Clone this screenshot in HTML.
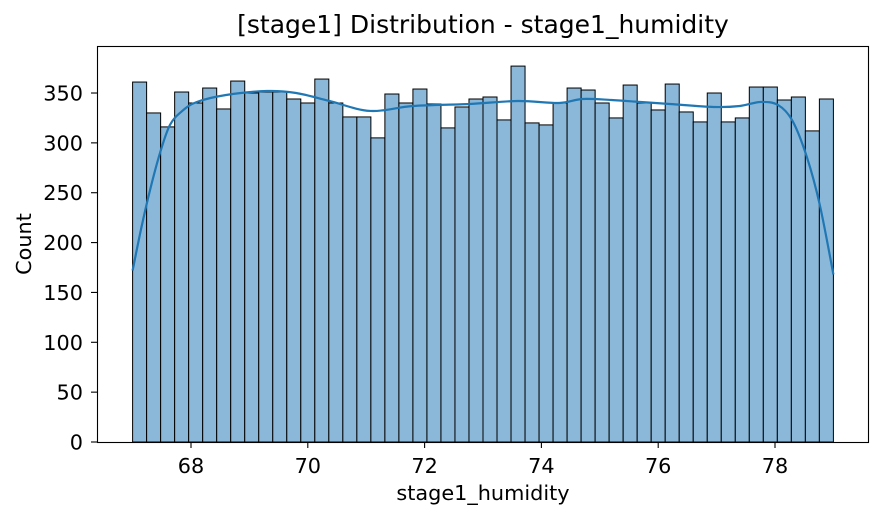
<!DOCTYPE html>
<html><head><meta charset="utf-8"><style>
body{margin:0;background:#fff;}
svg{display:block;font-family:"DejaVu Sans","Liberation Sans",sans-serif;}
</style></head><body>
<svg id="chart" width="884" height="521">
<text x="483" y="33" text-anchor="middle" font-size="25" fill="#000">[stage1] Distribution - stage1_humidity</text>
<g id="bars"></g>
<path id="kde" fill="none" stroke="#1f77b4" stroke-width="2.2"></path>
<rect x="97.5" y="46.5" width="771" height="396" fill="none" stroke="#000" stroke-width="1.1"></rect>
<g id="xticks"></g>
<g id="yticks"></g>
<text x="483" y="500" text-anchor="middle" font-size="20.8">stage1_humidity</text>
<text x="0" y="0" transform="translate(31,244) rotate(-90)" text-anchor="middle" font-size="20.8">Count</text>
</svg>
<script>
const binStart = 67, binEnd = 79;
const counts = [361,330,316,351,340,355,334,362,350,351,351,344,340,364,340,326,326,305,349,340,354,339,315,336,344,346,323,377,320,318,340,355,353,340,325,358,340,333,359,331,321,350,321,325,356,356,343,346,312,344];
const kdeX = [67,67.15,67.3,67.47,67.64,67.85,68.1,68.6,69.3,69.8,70.37,71.07,71.8,72.77,73.6,74.3,74.7,75.2,75.7,76.2,76.95,77.4,77.75,78.05,78.3,78.55,78.77,79];
const kdeY = [172,215,253,290,318,332,341,348,352,350,342,332,337,339,342,340,344,343,341,339,336,337,341,338,322,285,237,168];
const xTicks = [68,70,72,74,76,78];
const yTicks = [0,50,100,150,200,250,300,350];
const NS = "http://www.w3.org/2000/svg";
const sx = v => 191 + (v - 68) * 58.4;
const sy = v => 442 - v * 0.9971;
const bw = (binEnd - binStart) / counts.length;
const bars = document.getElementById('bars');
counts.forEach((c, i) => {
  const r = document.createElementNS(NS, 'rect');
  const x0 = sx(binStart + i * bw), x1 = sx(binStart + (i + 1) * bw);
  r.setAttribute('x', x0); r.setAttribute('width', x1 - x0);
  r.setAttribute('y', sy(c)); r.setAttribute('height', sy(0) - sy(c));
  r.setAttribute('fill', '#8bb8d9'); r.setAttribute('stroke', '#000'); r.setAttribute('stroke-width', '1');
  
  
  bars.appendChild(r);
});
const pts = kdeX.map((x, i) => [sx(x), sy(kdeY[i])]);
let d = `M${pts[0][0]},${pts[0][1]}`;
for (let i = 0; i < pts.length - 1; i++) {
  const p0 = pts[i - 1] || pts[i], p1 = pts[i], p2 = pts[i + 1], p3 = pts[i + 2] || p2;
  const c1 = [p1[0] + (p2[0] - p0[0]) / 6, p1[1] + (p2[1] - p0[1]) / 6];
  const c2 = [p2[0] - (p3[0] - p1[0]) / 6, p2[1] - (p3[1] - p1[1]) / 6];
  d += ` C${c1[0]},${c1[1]} ${c2[0]},${c2[1]} ${p2[0]},${p2[1]}`;
}
document.getElementById('kde').setAttribute('d', d);
const xg = document.getElementById('xticks');
xTicks.forEach(t => {
  const l = document.createElementNS(NS, 'line');
  l.setAttribute('x1', sx(t)); l.setAttribute('x2', sx(t)); l.setAttribute('y1', 442); l.setAttribute('y2', 448);
  l.setAttribute('stroke', '#000'); l.setAttribute('stroke-width', '1.1');
  
  
  xg.appendChild(l);
  const tx = document.createElementNS(NS, 'text');
  tx.setAttribute('x', sx(t)); tx.setAttribute('y', 473); tx.setAttribute('text-anchor', 'middle'); tx.setAttribute('font-size', '20.8');
  tx.textContent = t;
  
  
  xg.appendChild(tx);
});
const yg = document.getElementById('yticks');
yTicks.forEach(t => {
  const l = document.createElementNS(NS, 'line');
  l.setAttribute('x1', 91); l.setAttribute('x2', 97); l.setAttribute('y1', sy(t)); l.setAttribute('y2', sy(t));
  l.setAttribute('stroke', '#000'); l.setAttribute('stroke-width', '1.1');
  
  
  yg.appendChild(l);
  const tx = document.createElementNS(NS, 'text');
  tx.setAttribute('x', 83); tx.setAttribute('y', sy(t) + 7.5); tx.setAttribute('text-anchor', 'end'); tx.setAttribute('font-size', '20.8');
  tx.textContent = t;
  
  
  yg.appendChild(tx);
});
</script>
</body></html>
